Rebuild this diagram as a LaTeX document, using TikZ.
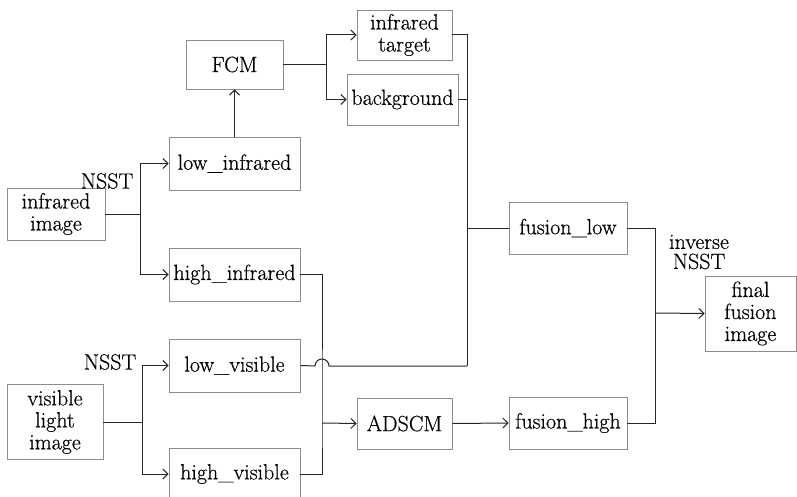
\documentclass[tikz,border=0pt]{standalone}
\usepackage{fontspec}
\setmainfont{Latin Modern Roman}[FakeBold=0.5]
\usetikzlibrary{arrows.meta}
\begin{document}
\begin{tikzpicture}[x=1pt,y=-1pt,
  txt/.style={font=\fontsize{22}{22}\selectfont, align=center},
  box/.style={txt, draw=black!45, line width=0.9pt, rectangle, inner sep=0pt},
  conn/.style={draw=black!85, line width=1pt},
  arr/.style={conn, -{Straight Barb[length=5pt,width=10pt,line width=1pt]}}]
\useasboundingbox (0,0) rectangle (797,497);
% boxes
\node[box, minimum width=98, minimum height=52] (ir) at (56,214) {infrared\\image};
\node[box, minimum width=96, minimum height=75] (vi) at (55,422) {visible\\light\\image};
\node[box, minimum width=131, minimum height=53] (li) at (234.5,163.5) {low\_infrared};
\node[box, minimum width=131, minimum height=53] (hi) at (234.5,274.5) {high\_infrared};
\node[box, minimum width=131, minimum height=53] (lv) at (234.5,365.5) {low\_visible};
\node[box, minimum width=131, minimum height=52] (hv) at (234.5,474) {high\_visible};
\node[box, minimum width=97, minimum height=49] (fcm) at (234.5,64.5) {FCM};
\node[box, minimum width=95, minimum height=50] (it) at (404.5,35) {infrared\\target};
\node[box, minimum width=111, minimum height=51] (bg) at (402.5,99.5) {background};
\node[box, minimum width=118, minimum height=52] (fl) at (568,228) {fusion\_low};
\node[box, minimum width=95, minimum height=51] (ad) at (404.5,423.5) {ADSCM};
\node[box, minimum width=118, minimum height=52] (fh) at (568,423) {fusion\_high};
\node[box, minimum width=91, minimum height=75] (fin) at (750.5,313.5) {final\\fusion\\image};
% labels
\node[txt] (n1) at (107,181) {NSST};
\node[txt] (n2) at (110,362) {NSST};
\node[txt, font=\fontsize{22}{20}\selectfont] (inv) at (699,252) {inverse\\NSST};
% connectors: infrared decomposition
\draw[arr] (ir.east) -- ++(35,0) |- (li.west);
\draw[arr] (ir.east) -- ++(35,0) |- (hi.west);
% visible decomposition
\draw[arr] (vi.east) -- ++(39,0) |- (lv.west);
\draw[arr] (vi.east) -- ++(39,0) |- (hv.west);
% FCM
\draw[arr] (li.north) -- (fcm.south);
\draw[arr] (fcm.east) -- ++(43,0) |- (it.west);
\draw[arr] (fcm.east) -- ++(43,0) |- (bg.west);
% low-frequency bus
\coordinate (lowbus) at (467,366);
\draw[conn] (it.east) -| (lowbus);
\draw[conn] (bg.east) -- (bg.east -| lowbus);
\draw[conn] (lowbus |- fl.west) -- (fl.west);
\draw[conn] (lowbus) -- (329,366) arc[start angle=0, end angle=180, radius=7pt] -- (lv.east);
% high-frequency bus
\coordinate (hb) at (322,423);
\draw[conn] (hi.east) -| (hb) |- (hv.east);
\draw[arr] (hb) -- (ad.west);
\draw[arr] (ad.east) -- (fh.west);
% fusion
\coordinate (fb) at (655,313);
\draw[conn] (fl.east) -| (fb) |- (fh.east);
\draw[arr] (fb) -- (fin.west);
\end{tikzpicture}
\end{document}
